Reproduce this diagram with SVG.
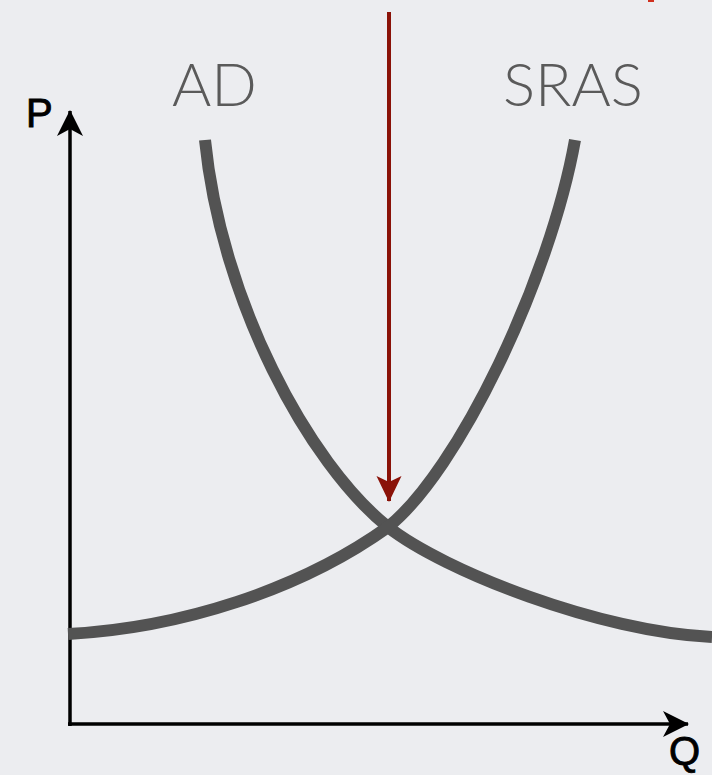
<svg xmlns="http://www.w3.org/2000/svg" width="712" height="775" viewBox="0 0 712 775">
<style>
.curve{fill:none;stroke:#535353;stroke-width:12}
.axis{fill:none;stroke:#000;stroke-width:3.5}
.lbl{font-family:Lato,"Open Sans",sans-serif;font-weight:300;font-size:60px;fill:#5a5a5a}
.ax{font-family:"Liberation Sans",Arial,sans-serif;font-size:40px;fill:#000;stroke:#000;stroke-width:0.9}
</style>
<defs>
<marker id="ah" viewBox="0 0 26 26" refX="25" refY="13" markerWidth="26" markerHeight="26" markerUnits="userSpaceOnUse" orient="auto">
<path d="M0,0 L26,13 L0,26 L7,13 Z" fill="#000"/>
</marker>
<marker id="rh" viewBox="0 0 26 26" refX="25" refY="13" markerWidth="26" markerHeight="26" markerUnits="userSpaceOnUse" orient="auto">
<path d="M0,0.5 L26,13 L0,25.5 L6,13 Z" fill="#8a1208"/>
</marker>
</defs>
<rect width="712" height="775" fill="#ecedf0"/>
<rect x="648" y="0" width="6" height="2" fill="#d0301e"/>
<g id="axes">
<line class="axis" x1="70" y1="726" x2="70" y2="111" marker-end="url(#ah)"/>
<line class="axis" x1="68" y1="724" x2="688" y2="724" marker-end="url(#ah)"/>
</g>
<g id="AD">
<path class="curve" d="M205,140 C221,300 308,463 388,527 C444,571 600,632 712,637"/>
<text class="lbl" x="172" y="106">AD</text>
</g>
<g id="SRAS">
<path class="curve" d="M68,634 C180,628 300,590 388,527 C458,471 550,280 575,140"/>
<text class="lbl" x="503" y="106">SRAS</text>
</g>
<g id="labels">
<text class="ax" x="26" y="127">P</text>
<text class="ax" x="669" y="765">Q</text>
</g>
<g id="connectors">
<line x1="389" y1="12" x2="389" y2="501" stroke="#8a1208" stroke-width="4" marker-end="url(#rh)"/>
</g>
</svg>
